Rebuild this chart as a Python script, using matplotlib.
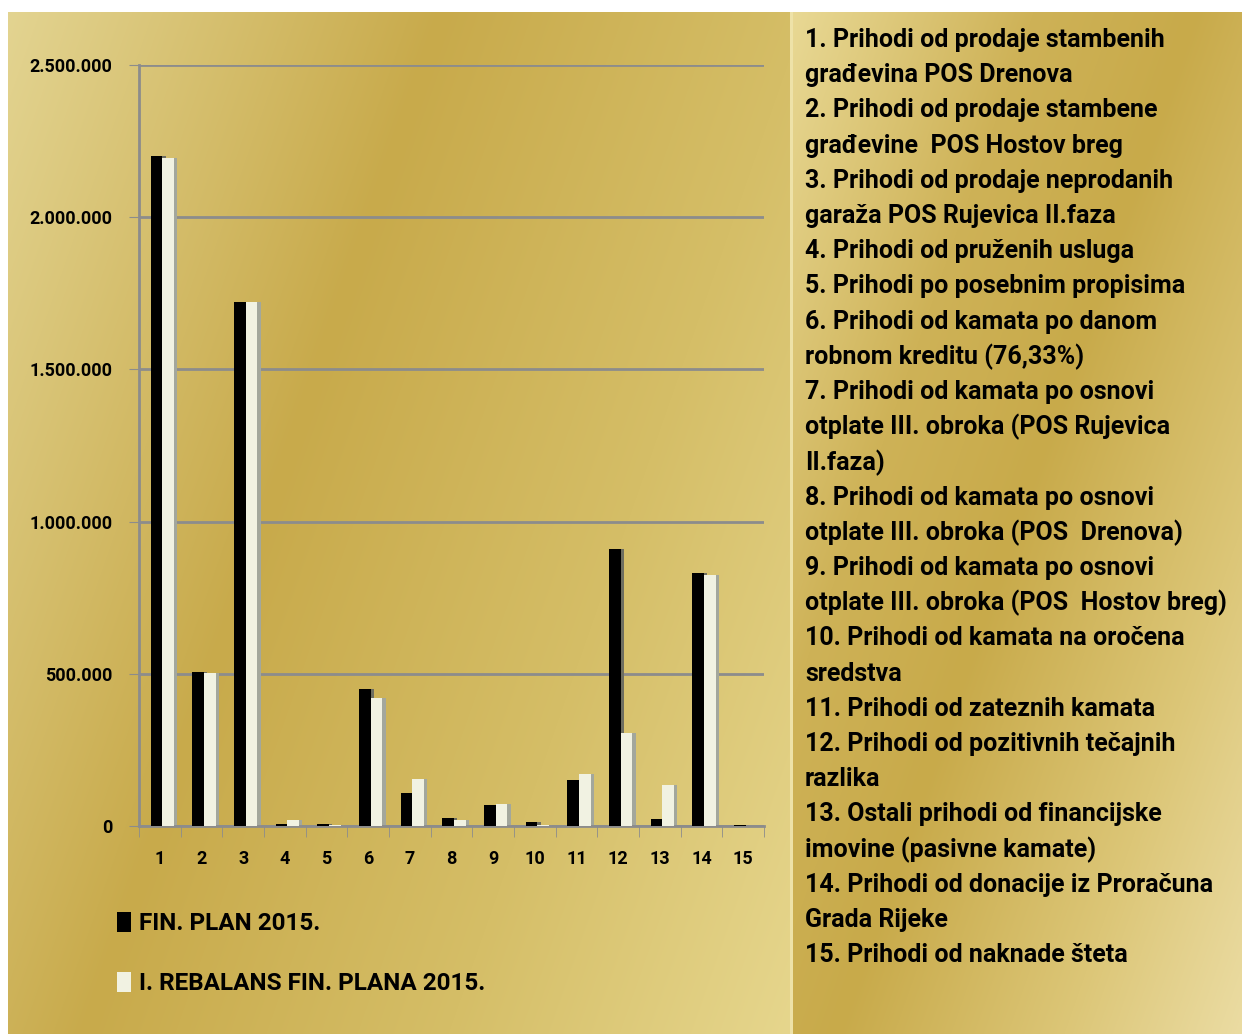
import numpy as np
import matplotlib
matplotlib.use("Agg")
from matplotlib import pyplot as plt
from matplotlib.patches import Patch

## Data
categories = [str(i) for i in range(1, 16)]
fin_plan = [2200000, 505000, 1720000, 5000, 8000, 450000, 110000, 27000,
            70000, 12000, 152000, 910000, 23000, 830000, 3000]
rebalans = [2195000, 503000, 1720000, 20000, 3000, 420000, 156000, 20000,
            73000, 2000, 170000, 305000, 136000, 825000, 1000]
series_names = ["FIN. PLAN 2015.", "I. REBALANS FIN. PLANA 2015."]
y_ticks = [0, 500000, 1000000, 1500000, 2000000, 2500000]
descriptions = [
    "1. Prihodi od prodaje stambenih\ngrađevina POS Drenova",
    "2. Prihodi od prodaje stambene\ngrađevine  POS Hostov breg",
    "3. Prihodi od prodaje neprodanih\ngaraža POS Rujevica II.faza",
    "4. Prihodi od pruženih usluga",
    "5. Prihodi po posebnim propisima",
    "6. Prihodi od kamata po danom\nrobnom kreditu (76,33%)",
    "7. Prihodi od kamata po osnovi\notplate III. obroka (POS Rujevica\nII.faza)",
    "8. Prihodi od kamata po osnovi\notplate III. obroka (POS  Drenova)",
    "9. Prihodi od kamata po osnovi\notplate III. obroka (POS  Hostov breg)",
    "10. Prihodi od kamata na oročena\nsredstva",
    "11. Prihodi od zateznih kamata",
    "12. Prihodi od pozitivnih tečajnih\nrazlika",
    "13. Ostali prihodi od financijske\nimovine (pasivne kamate)",
    "14. Prihodi od donacije iz Proračuna\nGrada Rijeke",
    "15. Prihodi od naknade šteta",
]

W, H = 1242, 1034
fig = plt.figure(figsize=(W / 100, H / 100), dpi=100)
fig.patch.set_facecolor("white")

#### gold background ####
def hex2rgb(h):
    h = h.lstrip("#")
    return np.array([int(h[i:i + 2], 16) / 255 for i in (0, 2, 4)])

def gradient(w, h, stops, cols, tilt=0.35):
    xx, yy = np.meshgrid(np.arange(w), np.arange(h))
    t = (xx + tilt * yy) / (w + tilt * h)
    c = np.array([hex2rgb(k) for k in cols])
    out = np.zeros((h, w, 3))
    for ch in range(3):
        out[..., ch] = np.interp(t, stops, c[:, ch])
    return out

bg = np.ones((H, W, 3))
split = 790
bg[12:, 8:split] = gradient(split - 8, H - 12, [0, 0.38, 0.7, 1.0],
                            ["#e3d491", "#c8aa4b", "#d5be67", "#e6d68d"])
bg[12:, split:] = gradient(W - split, H - 12, [0, 0.3, 0.5, 0.78, 1.0],
                           ["#e9d995", "#ceb257", "#c8aa4a", "#dcc677", "#ebdca3"])
bg[12:, split:split + 3] = hex2rgb("#eee2a8")
fig.figimage(bg[::-1], xo=0, yo=0, origin="lower", zorder=-10)

#### bar chart ####
ax = fig.add_axes([139 / W, 1 - 826 / H, 625 / W, (826 - 65) / H], zorder=5)
ax.patch.set_alpha(0)
x = np.arange(1, 16)
bw = 0.28
side = 0.08
off_b, off_w = -0.08, 0.2
# grey side faces to fake the 3D look
ax.bar(x + off_b + bw / 2, fin_plan, width=side, align="edge", color="#6e6e60", zorder=2)
ax.bar(x + off_w + bw / 2, rebalans, width=side, align="edge", color="#a3a79c", zorder=2)
ax.bar(x + off_b, fin_plan, width=bw, color="black", zorder=3)
ax.bar(x + off_w, rebalans, width=bw, color="#f1f2e2", zorder=3)

lab_font = {"fontsize": 13, "fontweight": "bold", "family": "Roboto"}
ax.set_xlim(0.5, 15.5)
ax.set_ylim(0, 2500000)
ax.set_yticks(y_ticks)
ax.set_yticklabels(["{:,}".format(v).replace(",", ".") for v in y_ticks], **lab_font)
ax.set_xticks(x)
ax.set_xticklabels(categories, **lab_font)
ax.set_xticks(np.arange(0.5, 16, 1), minor=True)
ax.tick_params(axis="x", which="major", length=0, pad=17)
ax.tick_params(axis="x", which="minor", length=8, color="#8c8c8c", direction="out")
ax.tick_params(axis="y", length=7, color="#8c8c8c", pad=12)
ax.yaxis.grid(True, color="#8c8c8c", linewidth=2)
ax.set_axisbelow(True)
for s in ["top", "right"]:
    ax.spines[s].set_visible(False)
for s in ["left", "bottom"]:
    ax.spines[s].set_color("#8c8c8c")
    ax.spines[s].set_linewidth(2)

fig.legend([Patch(facecolor="black"), Patch(facecolor="#f1f2e2")], series_names,
           loc="upper left", bbox_to_anchor=(95 / W, 1 - 890 / H), frameon=False,
           handlelength=0.6, handleheight=0.9, handletextpad=0.3, labelspacing=1.5,
           prop={"family": "Roboto", "weight": "bold", "size": 17.5})

#### description list ####
lines = "\n".join(descriptions).split("\n")
for i, line in enumerate(lines):
    fig.text(805 / W, 1 - (40 + i * 35.2) / H, line, ha="left", va="center",
             fontsize=18, fontweight="bold", family="Roboto")

fig.savefig("out.png", dpi=100)
